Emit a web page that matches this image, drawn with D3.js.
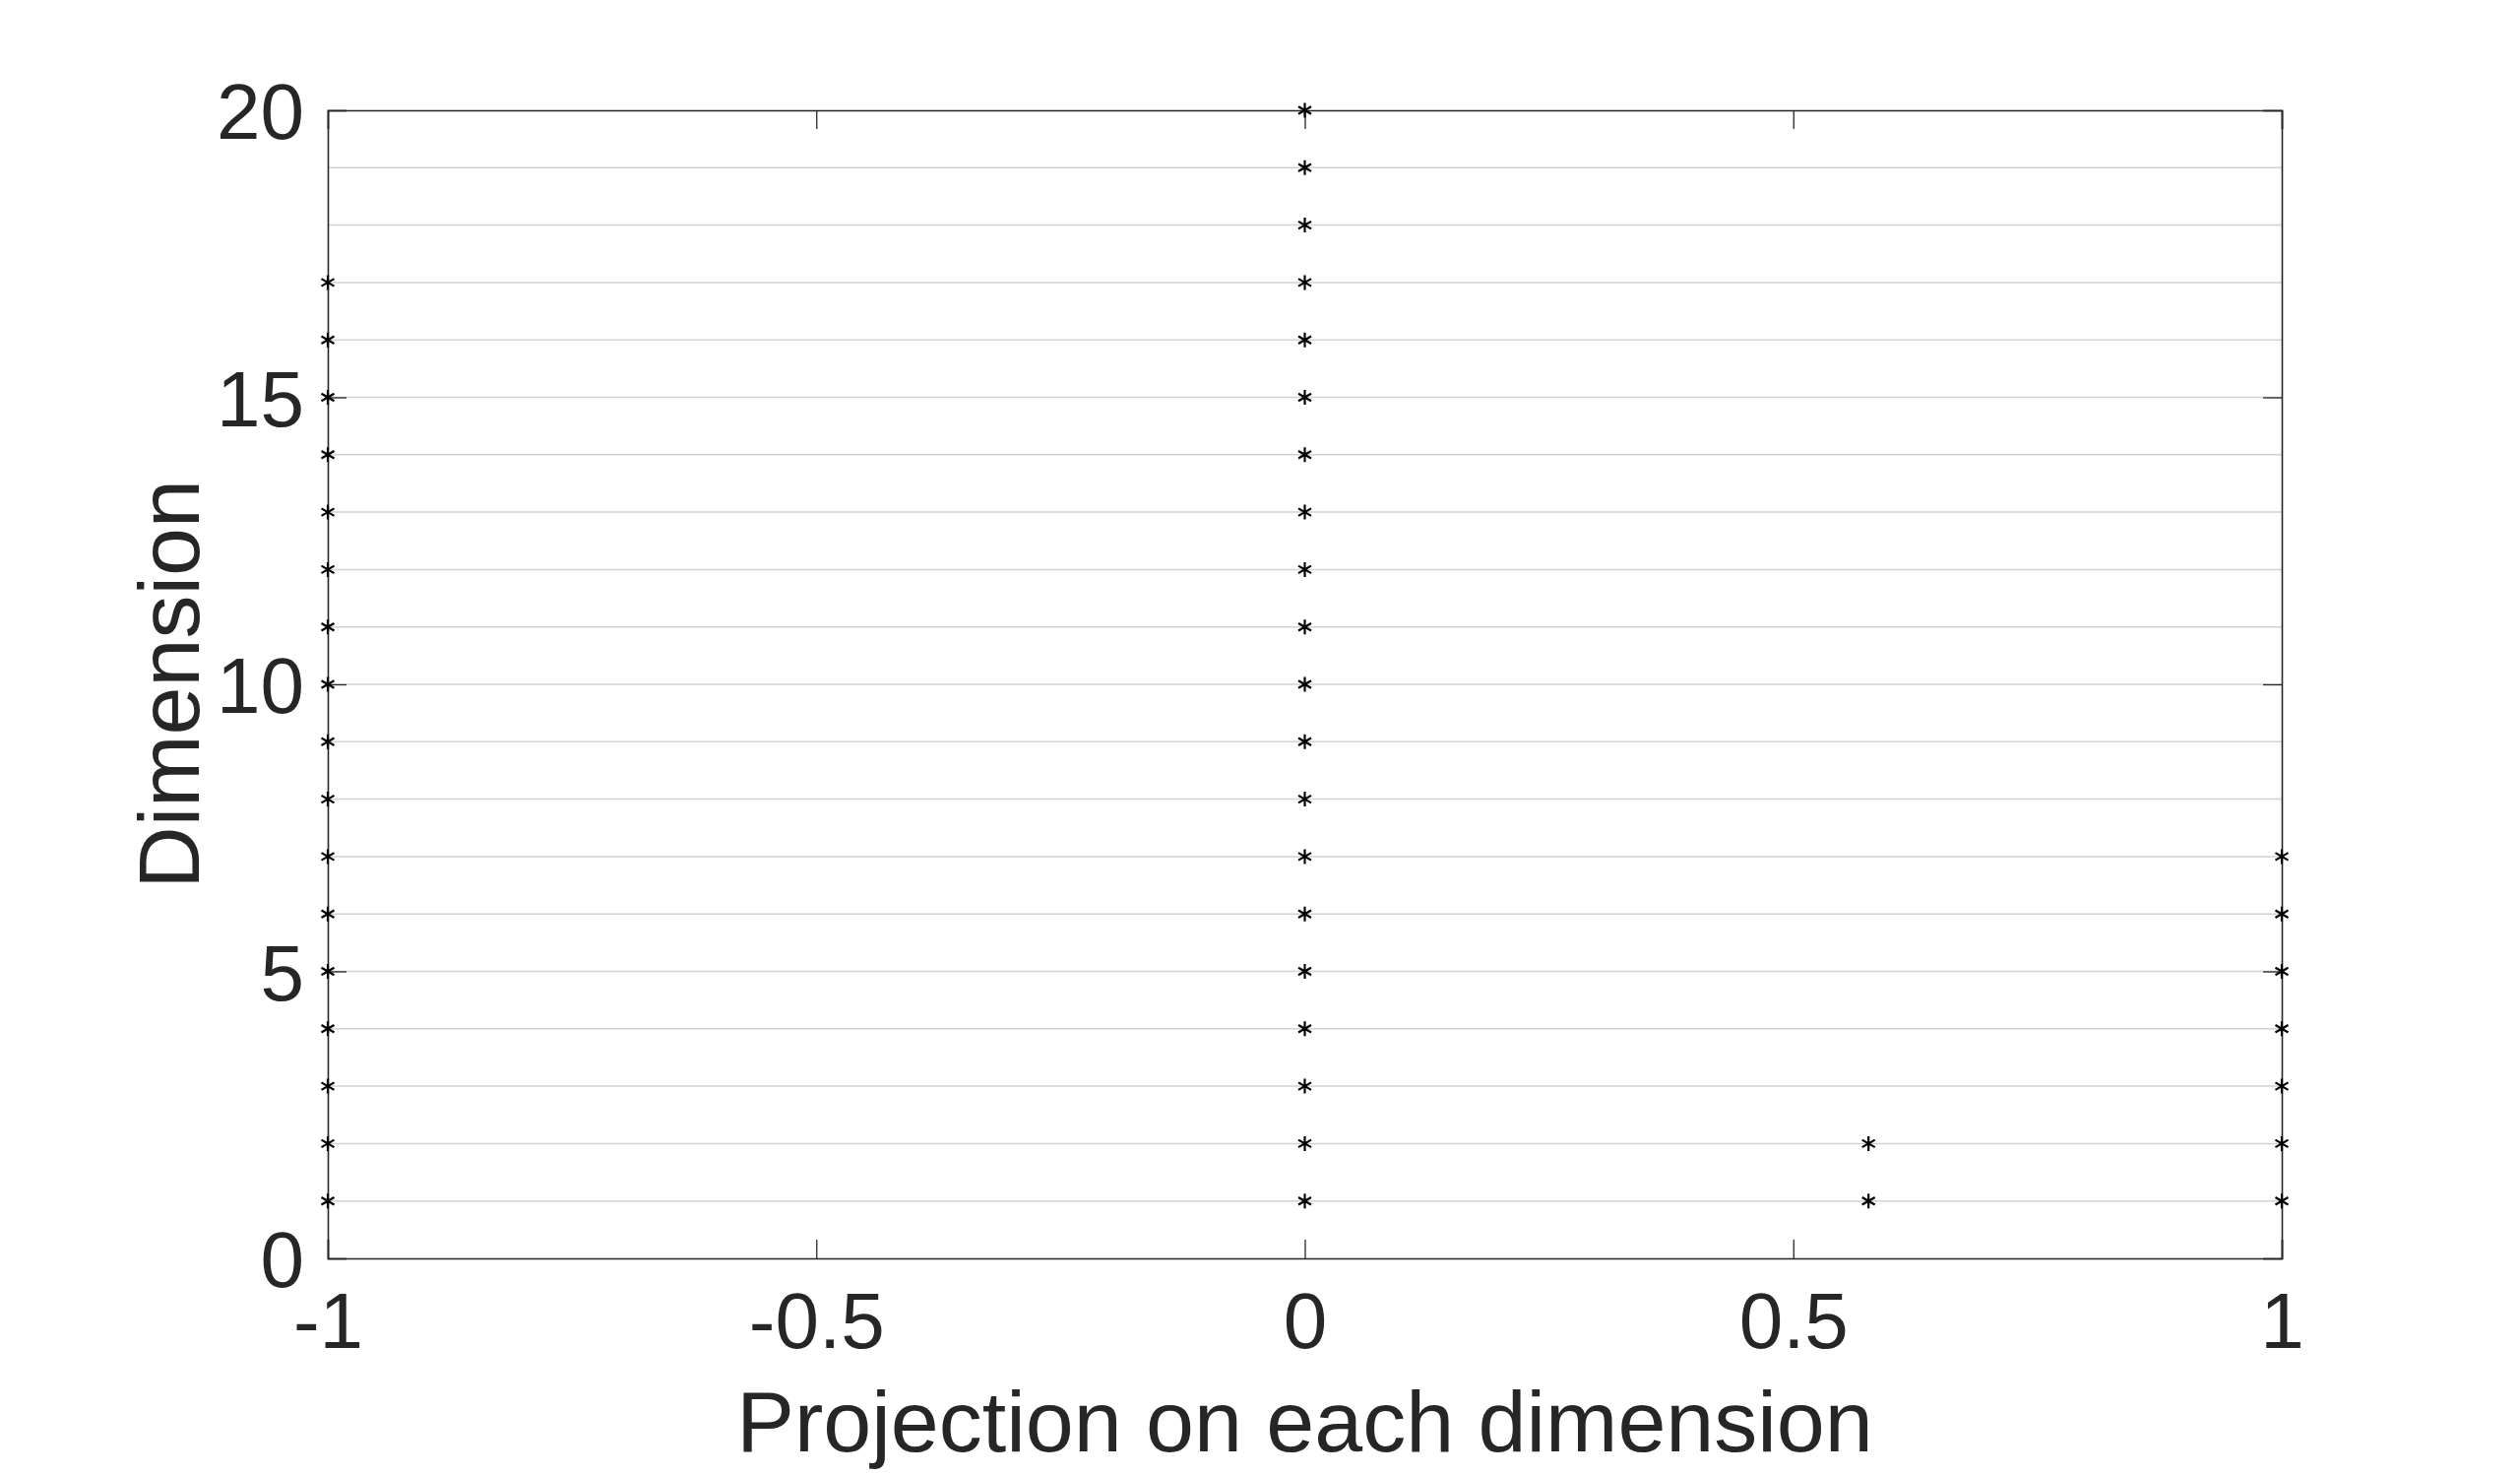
<!DOCTYPE html>
<html lang="en">
<head>
<meta charset="UTF-8">
<title>Projection on each dimension</title>
<script src="https://d3js.org/d3.v7.min.js"></script>
<style>
    body { margin: 0; background: #fff; }
    text { font-family: "Liberation Sans", Arial, sans-serif; fill: #262626; }
</style>
</head>
<body>
<div id="chart"></div>
<script>
// projection values, one array per column of points
var dimsNeg = [1, 2, 3, 4, 5, 6, 7, 8, 9, 10, 11, 12, 13, 14, 15, 16, 17];
var dimsZero = [1, 2, 3, 4, 5, 6, 7, 8, 9, 10, 11, 12, 13, 14, 15, 16, 17, 18, 19, 20];
var dimsMid = [1, 2];
var dimsOne = [1, 2, 3, 4, 5, 6, 7];
var projNeg = -1, projZero = 0, projMid = 0.577, projOne = 1;

var xTicks = [-1, -0.5, 0, 0.5, 1];
var yTicks = [0, 5, 10, 15, 20];
var yGrid = d3.range(1, 20);

var width = 2560, height = 1498;
var margin = {left: 333, right: 242, top: 112, bottom: 220};

var svg = d3.select("#chart").append("svg")
    .attr("width", width)
    .attr("height", height);

var x = d3.scaleLinear().domain([-1, 1]).range([margin.left, width - margin.right]);
var y = d3.scaleLinear().domain([0, 20]).range([height - margin.bottom, margin.top]);

// grid lines
svg.append("g").selectAll("line")
    .data(yGrid)
    .enter().append("line")
    .attr("x1", x(-1)).attr("x2", x(1))
    .attr("y1", function(d) { return y(d); })
    .attr("y2", function(d) { return y(d); })
    .attr("stroke", "#d2d2d2")
    .attr("stroke-width", 1.5);

// axes
var xAxis = svg.append("g")
    .attr("transform", "translate(0," + y(0) + ")")
    .call(d3.axisBottom(x).tickValues(xTicks).tickSize(-19).tickPadding(34)
        .tickFormat(function(d) { return d3.format("")(d).replace("−", "-"); }));
var xTop = svg.append("g")
    .attr("transform", "translate(0," + y(20) + ")")
    .call(d3.axisTop(x).tickValues(xTicks).tickSize(-19).tickFormat(""));
var yAxis = svg.append("g")
    .attr("transform", "translate(" + x(-1) + ",0)")
    .call(d3.axisLeft(y).tickValues(yTicks).tickSize(-19).tickPadding(24));
var yRight = svg.append("g")
    .attr("transform", "translate(" + x(1) + ",0)")
    .call(d3.axisRight(y).tickValues(yTicks).tickSize(-19).tickFormat(""));

[xAxis, xTop, yAxis, yRight].forEach(function(g) {
    g.select(".domain").attr("stroke", "#262626").attr("stroke-width", 1.6);
    g.selectAll(".tick line").attr("stroke", "#262626").attr("stroke-width", 1.3);
    g.selectAll("text").attr("font-size", 80).attr("fill", "#262626")
        .style("font-family", "'Liberation Sans', Arial, sans-serif");
});
xAxis.selectAll("text").attr("dy", "0.71em");
yAxis.selectAll("text").attr("dy", "0.36em");

// asterisk markers (vertical bar plus two diagonals)
var r = 7.5;
var ax = r * Math.cos(Math.PI / 6), ay = r * Math.sin(Math.PI / 6);
var star = "M0," + (-r) + "L0," + r +
    "M" + (-ax) + "," + (-ay) + "L" + ax + "," + ay +
    "M" + (-ax) + "," + ay + "L" + ax + "," + (-ay);

var series = [
    {xv: projNeg, dims: dimsNeg},
    {xv: projZero, dims: dimsZero},
    {xv: projMid, dims: dimsMid},
    {xv: projOne, dims: dimsOne}
];

series.forEach(function(s) {
    svg.append("g").selectAll("path")
        .data(s.dims)
        .enter().append("path")
        .attr("d", star)
        .attr("transform", function(d) { return "translate(" + x(s.xv) + "," + y(d) + ")"; })
        .attr("stroke", "#000")
        .attr("stroke-width", 2.2)
        .attr("fill", "none");
});

// axis labels
svg.append("text")
    .attr("x", x(0))
    .attr("y", 1474)
    .attr("text-anchor", "middle")
    .attr("font-size", 88)
    .text("Projection on each dimension");

svg.append("text")
    .attr("transform", "translate(202," + ((y(0) + y(20)) / 2) + ") rotate(-90)")
    .attr("text-anchor", "middle")
    .attr("font-size", 88)
    .text("Dimension");
</script>
</body>
</html>
